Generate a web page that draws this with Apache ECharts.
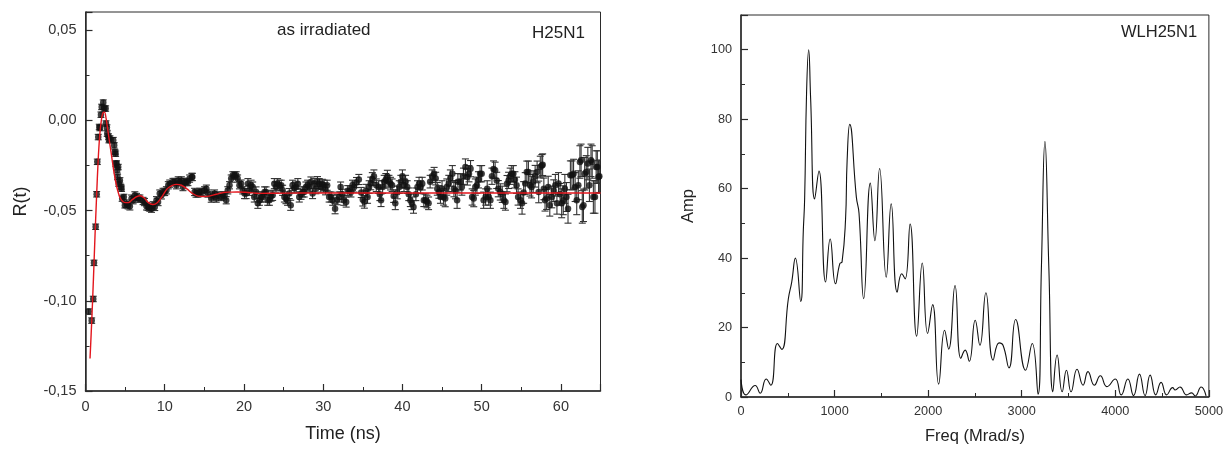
<!DOCTYPE html>
<html><head><meta charset="utf-8">
<script src="https://cdn.jsdelivr.net/npm/echarts@6/dist/echarts.min.js"></script>
<style>html,body{margin:0;padding:0;background:#fff}#c{width:1226px;height:450px}</style>
</head><body><div id="c"></div>
<script>
// Left panel: muon-spin relaxation data [time (ns), R(t), error]
const timePoints = [
[0.40,-0.106,0.0015],[0.78,-0.111,0.0015],[0.98,-0.099,0.0015],[1.07,-0.079,0.0015],[1.28,-0.059,0.0015],
[1.41,-0.041,0.0015],[1.49,-0.023,0.0015],[1.61,-0.0093,0.0015],[1.74,-0.0037,0.0015],[1.82,-0.0043,0.0015],
[1.95,0.0031,0.0015],[2.04,0.0074,0.0015],[2.24,0.0098,0.0015],[2.37,0.0065,0.0015],[2.54,0.0065,0.0015],
[2.58,-0.0018,0.0015],[2.70,-0.004,0.0015],[2.74,-0.0074,0.0015],[2.90,-0.009,0.0015],[2.96,-0.011,0.0015],
[3.08,-0.0101,0.0015],[3.50,-0.011,0.0015],[3.62,-0.0139,0.0015],[3.71,-0.0176,0.0015],[3.80,-0.0185,0.0015],
[3.84,-0.024,0.0015],[3.92,-0.024,0.0015],[4.00,-0.0277,0.0015],[4.05,-0.0314,0.0015],[4.13,-0.0259,0.0015],
[4.20,-0.0351,0.0015],[4.34,-0.0333,0.0015],[4.47,-0.037,0.0015],[4.55,-0.0379,0.0015],[4.63,-0.0434,0.0015],
[4.84,-0.0425,0.0015],[4.97,-0.0471,0.0015],[5.18,-0.0462,0.002],[5.38,-0.0471,0.002],[5.60,-0.0477,0.002],
[5.81,-0.0434,0.002],[6.01,-0.0443,0.002],[6.23,-0.0416,0.002],[6.44,-0.0425,0.002],[6.64,-0.0434,0.002],
[6.86,-0.0434,0.002],[7.27,-0.0447,0.002],[7.45,-0.0453,0.002],[7.70,-0.0477,0.002],[7.90,-0.048,0.002],
[8.11,-0.0484,0.002],[8.33,-0.049,0.002],[8.53,-0.0471,0.002],[8.74,-0.048,0.002],[8.96,-0.0443,0.002],
[9.16,-0.0453,0.002],[9.37,-0.0406,0.002],[9.58,-0.0416,0.002],[9.79,-0.0397,0.002],[10.00,-0.0397,0.002],
[10.21,-0.0388,0.002],[10.45,-0.036,0.002],[10.63,-0.0351,0.002],[11.04,-0.0342,0.002],[11.26,-0.0342,0.002],
[11.47,-0.036,0.002],[11.70,-0.0333,0.002],[11.89,-0.0342,0.002],[12.10,-0.0333,0.002],[12.30,-0.037,0.002],
[12.52,-0.0342,0.002],[12.73,-0.0342,0.002],[12.93,-0.0342,0.002],[13.14,-0.0323,0.002],[13.43,-0.0314,0.002],
[13.48,-0.0314,0.002],[13.77,-0.0397,0.002],[13.95,-0.0406,0.002],[14.19,-0.0406,0.002],[14.40,-0.0397,0.002],
[14.62,-0.0397,0.002],[15.03,-0.0388,0.002],[15.25,-0.0379,0.002],[15.45,-0.0406,0.002],[15.87,-0.0434,0.002],
[16.08,-0.0416,0.002],[16.29,-0.0406,0.002],[16.50,-0.0434,0.002],[16.70,-0.0416,0.002],[17.13,-0.0425,0.002],
[17.35,-0.0416,0.002],[17.55,-0.0416,0.002],[17.76,-0.0443,0.002],[17.96,-0.0388,0.002],[18.18,-0.036,0.002],
[18.39,-0.0323,0.002],[18.60,-0.0305,0.002],[18.80,-0.0305,0.002],[19.02,-0.0305,0.002],[19.20,-0.0323,0.002],
[19.43,-0.036,0.002],[19.65,-0.0351,0.002],[19.85,-0.0388,0.002],[20.07,-0.0406,0.0028],[20.28,-0.0406,0.0028],
[20.50,-0.0351,0.0028],[20.69,-0.0388,0.0028],[20.90,-0.036,0.0028],[21.10,-0.037,0.0028],[21.30,-0.0425,0.0028],
[21.53,-0.0397,0.0028],[21.75,-0.046,0.0028],[21.95,-0.0443,0.0028],[22.16,-0.0425,0.0028],[22.36,-0.0425,0.0028],
[22.60,-0.0397,0.0028],[22.79,-0.0397,0.0028],[23.00,-0.0443,0.0028],[23.21,-0.0443,0.0028],[23.42,-0.042,0.0028],
[23.62,-0.0416,0.0028],[23.83,-0.0351,0.0028],[24.04,-0.037,0.0028],[24.25,-0.0351,0.0028],[24.47,-0.036,0.0028],
[24.70,-0.036,0.0028],[24.88,-0.0388,0.0028],[25.10,-0.0425,0.0028],[25.30,-0.0434,0.0028],[25.50,-0.0443,0.0028],
[25.72,-0.0406,0.0028],[25.90,-0.0471,0.0028],[26.14,-0.036,0.0028],[26.35,-0.0375,0.0028],[26.57,-0.037,0.0028],
[26.80,-0.0351,0.0028],[26.98,-0.0425,0.0028],[27.20,-0.041,0.0028],[27.40,-0.0397,0.0028],[27.60,-0.0397,0.0028],
[27.82,-0.037,0.0028],[28.03,-0.036,0.0028],[28.24,-0.037,0.0028],[28.45,-0.0342,0.0028],[28.66,-0.0406,0.0028],
[28.87,-0.035,0.0028],[29.08,-0.0379,0.0028],[29.28,-0.034,0.0028],[29.50,-0.0351,0.0028],[29.70,-0.037,0.0028],
[29.90,-0.0355,0.0028],[30.10,-0.036,0.0028],[30.30,-0.0385,0.0028],[30.50,-0.036,0.0028],[30.75,-0.0425,0.0028],
[31.00,-0.0425,0.0028],[31.20,-0.0443,0.0028],[31.50,-0.049,0.0028],[31.75,-0.044,0.0028],[32.00,-0.0425,0.0028],
[32.20,-0.037,0.0028],[32.40,-0.041,0.0028],[32.60,-0.0443,0.0028],[32.90,-0.0453,0.0028],[33.10,-0.039,0.0028],
[33.30,-0.039,0.0028],[33.50,-0.0397,0.0028],[33.70,-0.036,0.0028],[33.90,-0.037,0.0028],[34.20,-0.0345,0.0028],
[34.50,-0.0328,0.0028],[34.80,-0.04,0.0028],[35.00,-0.044,0.0035],[35.20,-0.0452,0.0035],[35.40,-0.039,0.0035],
[35.60,-0.0425,0.0035],[35.80,-0.037,0.0035],[36.00,-0.035,0.0035],[36.20,-0.0325,0.0035],[36.40,-0.031,0.0035],
[36.70,-0.036,0.0035],[37.00,-0.037,0.0035],[37.15,-0.041,0.0035],[37.30,-0.0443,0.0035],[37.50,-0.037,0.0035],
[37.70,-0.034,0.0035],[37.90,-0.033,0.0035],[38.10,-0.0312,0.0035],[38.30,-0.034,0.0035],[38.50,-0.0351,0.0035],
[38.70,-0.036,0.0035],[38.90,-0.042,0.0035],[39.10,-0.046,0.0035],[39.35,-0.04,0.0035],[39.60,-0.037,0.0035],
[39.80,-0.034,0.0035],[40.00,-0.031,0.0035],[40.20,-0.036,0.0035],[40.40,-0.034,0.0035],[40.60,-0.037,0.0035],
[40.80,-0.041,0.0035],[41.00,-0.0443,0.0035],[41.20,-0.046,0.0035],[41.40,-0.048,0.0035],[41.70,-0.041,0.0035],
[41.90,-0.037,0.0035],[42.10,-0.0351,0.0035],[42.30,-0.037,0.0035],[42.50,-0.0351,0.0035],[42.70,-0.0443,0.0035],
[42.90,-0.0443,0.0035],[43.10,-0.045,0.0035],[43.30,-0.046,0.0035],[43.50,-0.034,0.0035],[43.75,-0.031,0.0035],
[44.00,-0.0296,0.0035],[44.20,-0.0323,0.0035],[44.40,-0.038,0.0035],[44.60,-0.0397,0.0035],[44.80,-0.0425,0.0035],
[45.00,-0.038,0.0045],[45.20,-0.0425,0.0045],[45.40,-0.0434,0.0045],[45.60,-0.037,0.0045],[45.85,-0.035,0.0045],
[46.05,-0.032,0.0045],[46.30,-0.0296,0.0045],[46.50,-0.0379,0.0045],[46.70,-0.039,0.0045],[46.90,-0.0443,0.0045],
[47.00,-0.034,0.0045],[47.30,-0.0342,0.0045],[47.50,-0.037,0.0045],[47.70,-0.031,0.0045],[47.95,-0.0259,0.0045],
[48.20,-0.0314,0.0045],[48.40,-0.0296,0.0045],[48.60,-0.0268,0.0045],[48.80,-0.0425,0.0045],[49.00,-0.0434,0.0045],
[49.20,-0.037,0.0045],[49.40,-0.036,0.0045],[49.60,-0.033,0.0045],[49.80,-0.0296,0.0045],[50.00,-0.0296,0.0045],
[50.25,-0.0443,0.0045],[50.50,-0.0425,0.0045],[50.70,-0.038,0.0045],[50.90,-0.0425,0.0045],[51.10,-0.0443,0.0045],
[51.30,-0.031,0.0045],[51.50,-0.027,0.0045],[51.70,-0.0277,0.0045],[51.90,-0.0333,0.0045],[52.10,-0.0379,0.0045],
[52.35,-0.0397,0.0045],[52.60,-0.041,0.0045],[52.80,-0.0443,0.0045],[53.00,-0.0453,0.0045],[53.20,-0.0351,0.0045],
[53.40,-0.0333,0.0045],[53.60,-0.031,0.0045],[53.80,-0.0296,0.0045],[54.00,-0.0296,0.0045],[54.20,-0.033,0.0045],
[54.40,-0.036,0.0045],[54.60,-0.0425,0.0045],[54.90,-0.0443,0.0045],[55.10,-0.046,0.006],[55.30,-0.04,0.006],
[55.50,-0.035,0.006],[55.70,-0.0286,0.006],[55.90,-0.0286,0.006],[56.10,-0.036,0.006],[56.30,-0.037,0.006],
[56.50,-0.034,0.006],[56.75,-0.031,0.006],[57.00,-0.0286,0.006],[57.20,-0.0397,0.006],[57.40,-0.0259,0.006],
[57.60,-0.025,0.006],[57.70,-0.0246,0.006],[57.85,-0.038,0.006],[58.00,-0.0443,0.006],[58.20,-0.0434,0.006],
[58.40,-0.037,0.006],[58.60,-0.0471,0.006],[58.85,-0.0425,0.006],[59.10,-0.039,0.006],[59.30,-0.036,0.006],
[59.50,-0.046,0.006],[59.70,-0.035,0.006],[59.90,-0.041,0.006],[60.10,-0.046,0.008],[60.30,-0.0443,0.008],
[60.50,-0.038,0.008],[60.70,-0.0425,0.008],[60.90,-0.049,0.008],[61.20,-0.0305,0.008],[61.40,-0.0305,0.008],
[61.60,-0.0296,0.008],[61.80,-0.037,0.008],[62.00,-0.0443,0.008],[62.20,-0.036,0.008],[62.40,-0.0231,0.009],
[62.55,-0.0222,0.009],[62.70,-0.048,0.009],[62.85,-0.0471,0.009],[63.00,-0.0296,0.009],[63.20,-0.0286,0.009],
[63.40,-0.024,0.009],[63.60,-0.036,0.009],[63.80,-0.0222,0.009],[63.95,-0.0231,0.009],[64.10,-0.0425,0.009],
[64.30,-0.0425,0.009],[64.45,-0.0259,0.009],[64.60,-0.0259,0.009],[64.75,-0.0314,0.009],[64.85,-0.031,0.009]
];
// Left panel: fitted curve [time (ns), R(t)]
const fitCurve = [
[0.57,-0.132],[0.8,-0.110],[1.0,-0.088],[1.2,-0.064],[1.4,-0.042],[1.6,-0.022],[1.8,-0.008],[2.0,0.000],
[2.2,0.004],[2.4,0.0045],[2.6,0.001],[2.8,-0.005],[3.0,-0.011],[3.3,-0.020],[3.6,-0.029],[3.9,-0.036],
[4.2,-0.041],[4.5,-0.044],[4.9,-0.0455],[5.4,-0.0456],[5.9,-0.044],[6.4,-0.0425],[6.9,-0.0418],[7.4,-0.043],
[7.9,-0.0455],[8.5,-0.0467],[9.1,-0.0455],[9.7,-0.042],[10.3,-0.038],[10.9,-0.0362],[11.5,-0.0355],[12.1,-0.036],
[12.8,-0.038],[13.5,-0.0405],[14.2,-0.042],[14.9,-0.0422],[15.6,-0.042],[16.5,-0.041],[17.4,-0.040],[18.3,-0.0398],
[19.2,-0.0397],[20.5,-0.040],[22,-0.0405],[24,-0.0404],[27,-0.0403],[35,-0.0403],[45,-0.0403],[55,-0.0403],[65,-0.0403]
];
// Right panel: Fourier amplitude [frequency (Mrad/s), amplitude]
const fftCurve = [
[0,5],[53,0.6],[152,3.3],[205,1.1],[269,5.2],[319,3.4],[389,15.4],[436,13.7],[506,28.3],[542,33.1],[581,40],
[638,27.5],[666,48],[680,57],[701,88],[723,100],[744,86],[787,57],[833,65.1],[904,33.1],[953,45.5],[1010,32.6],
[1056,38.4],[1080,38.9],[1117,51],[1134,68],[1162,78.5],[1233,57.5],[1261,53],[1311,28.3],[1382,61.6],[1431,45],
[1481,65.8],[1552,34.5],[1605,55.6],[1669,30.2],[1718,35.5],[1754,34],[1807,49.8],[1877,17.5],[1937,38.6],
[1994,18.3],[2048,26.6],[2112,3.7],[2176,19.2],[2219,13.8],[2287,32.1],[2349,11.1],[2396,13.5],[2439,10.3],
[2503,22.1],[2553,14.9],[2617,30],[2694,10.6],[2758,15.6],[2800,14.9],[2864,8.4],[2935,22.3],[3041,7.7],
[3112,15.4],[3174,0.8],[3210,37],[3248,73.6],[3290,37],[3333,1.5],[3378,12.1],[3432,1.5],[3478,7.7],[3527,1.5],
[3591,8],[3655,3.4],[3708,7.3],[3776,3.4],[3840,6.1],[3910,3],[3999,5.2],[4063,0.6],[4134,5.2],[4195,0.4],
[4258,6.6],[4318,0.4],[4372,6.3],[4432,0.6],[4489,4.2],[4549,0.6],[4613,2.7],[4640,2],[4691,2.9],[4762,0.6],
[4815,1.2],[4853,0.3],[4917,2.9],[4970,0.3]
];
const leftTitle = 'as irradiated';
const leftTag = 'H25N1';
const rightTag = 'WLH25N1';

const FONT = '"Liberation Sans", Arial, sans-serif';
const AX = '#2b2b2b';
const chart = echarts.init(document.getElementById('c'));

function axisCommon(fontSize, margin, showMax) {
  return {
    axisLine: {show: true, onZero: false, lineStyle: {color: AX, width: 1.5}},
    axisTick: {show: true, inside: true, length: 7, lineStyle: {color: AX, width: 1.2}},
    minorTick: {show: true, splitNumber: 2, length: 4, lineStyle: {color: AX, width: 1}},
    splitLine: {show: false},
    axisLabel: {showMaxLabel: showMax, color: '#333', fontSize: fontSize, fontFamily: FONT, margin: margin,
      formatter: v => String(v)}
  };
}

const option = {
  animation: false,
  backgroundColor: '#fff',
  grid: [
    {left: 85.5, top: 12, width: 515, height: 379, show: true, borderColor: AX, borderWidth: 1, containLabel: false},
    {left: 741, top: 15, width: 470, height: 384, show: true, borderColor: AX, borderWidth: 1, containLabel: false}
  ],
  xAxis: [
    Object.assign({gridIndex: 0, type: 'value', min: 0, max: 65, interval: 10,
      name: 'Time (ns)', nameLocation: 'middle', nameGap: 34,
      nameTextStyle: {fontSize: 18, color: '#222', fontFamily: FONT}}, axisCommon(14.5, 8, false)),
    Object.assign({gridIndex: 1, type: 'value', min: 0, max: 5000, interval: 1000,
      name: 'Freq (Mrad/s)', nameLocation: 'middle', nameGap: 31,
      nameTextStyle: {fontSize: 16.5, color: '#222', fontFamily: FONT}}, axisCommon(12.7, 8, true))
  ],
  yAxis: [
    Object.assign({gridIndex: 0, type: 'value', min: -0.15, max: 0.06, interval: 0.05,
      name: 'R(t)', nameLocation: 'middle', nameGap: 55,
      nameTextStyle: {fontSize: 18, color: '#222', fontFamily: FONT}}, axisCommon(14.5, 9, false)),
    Object.assign({gridIndex: 1, type: 'value', min: 0, max: 110, interval: 20,
      name: 'Amp', nameLocation: 'middle', nameGap: 44,
      nameTextStyle: {fontSize: 16.5, color: '#222', fontFamily: FONT}}, axisCommon(12.7, 9, false))
  ],
  series: [
    {
      type: 'custom', xAxisIndex: 0, yAxisIndex: 0, data: timePoints, z: 2, clip: true,
      encode: {x: 0, y: 1},
      renderItem: function (params, api) {
        const t = api.value(0), v = api.value(1), e = api.value(2);
        const a = api.coord([t, v + e]), b = api.coord([t, v - e]);
        const hw = 3.5;
        const st = {stroke: '#333', lineWidth: 1.1};
        return {type: 'group', children: [
          {type: 'line', shape: {x1: a[0], y1: a[1], x2: b[0], y2: b[1]}, style: st},
          {type: 'line', shape: {x1: a[0] - hw, y1: a[1], x2: a[0] + hw, y2: a[1]}, style: st},
          {type: 'line', shape: {x1: b[0] - hw, y1: b[1], x2: b[0] + hw, y2: b[1]}, style: st}
        ]};
      }
    },
    {
      type: 'scatter', xAxisIndex: 0, yAxisIndex: 0, z: 3,
      data: timePoints.map(p => [p[0], p[1]]),
      symbol: 'circle', symbolSize: 6.5, itemStyle: {color: '#111'}
    },
    {
      type: 'line', xAxisIndex: 0, yAxisIndex: 0, z: 5, data: fitCurve,
      showSymbol: false, smooth: 0.35, lineStyle: {color: '#e3161d', width: 1.4}
    },
    {
      type: 'line', xAxisIndex: 1, yAxisIndex: 1, z: 5, data: fftCurve,
      showSymbol: false, smooth: 0.5, lineStyle: {color: '#111', width: 1.1}
    }
  ],
  graphic: [
    {type: 'text', left: 277, top: 22, style: {text: leftTitle, font: '17px "Liberation Sans", Arial, sans-serif', fill: '#222'}},
    {type: 'text', left: 532, top: 25, style: {text: leftTag, font: '17px "Liberation Sans", Arial, sans-serif', fill: '#222'}},
    {type: 'text', left: 1121, top: 24, style: {text: rightTag, font: '16.5px "Liberation Sans", Arial, sans-serif', fill: '#222'}}
  ]
};

// Y-axis label format with decimal comma for left panel
option.yAxis[0].axisLabel.formatter = v => v.toFixed(2).replace('.', ',');
chart.setOption(option);
</script>
</body></html>
